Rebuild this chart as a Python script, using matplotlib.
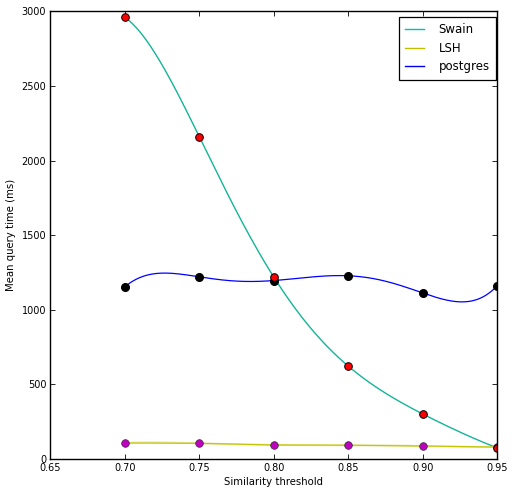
import numpy as np
import matplotlib
matplotlib.use("Agg")
import matplotlib.pyplot as plt
from matplotlib.lines import Line2D


# ============================================================
# Data
# ============================================================

THRESHOLDS = [0.70, 0.75, 0.80, 0.85, 0.90, 0.95]

SWAIN = [2960, 2160, 1220, 623, 302, 76]
LSH = [107, 105, 94, 92, 87, 80]
POSTGRES = [1154, 1221, 1196, 1228, 1113, 1160]

SERIES_LABELS = ["Swain", "LSH", "postgres"]


# ============================================================
# Helper: smooth curve through the points
# ============================================================

def smooth(x, y, x_new):
    coeffs = np.polyfit(x, y, len(x) - 1)
    return np.polyval(coeffs, x_new)


# ============================================================
# Plot
# ============================================================

plt.rcParams.update({
    "font.family": "DejaVu Sans",
    "font.size": 7,
    "xtick.direction": "in",
    "ytick.direction": "in",
    "xtick.top": True,
    "ytick.right": True,
    "xtick.major.size": 3.5,
    "ytick.major.size": 3.5,
    "xtick.major.pad": 3,
    "ytick.major.pad": 3,
})

fig = plt.figure(figsize=(5.14, 4.94), dpi=100)
ax = fig.add_axes([0.0982, 0.0709, 0.8687, 0.906])

x_smooth = np.linspace(THRESHOLDS[0], THRESHOLDS[-1], 300)

ax.plot(x_smooth, smooth(THRESHOLDS, SWAIN, x_smooth),
        color="#14b596", linewidth=1.0)
ax.plot(x_smooth, smooth(THRESHOLDS, LSH, x_smooth),
        color="#e6e69c", linewidth=1.4)
ax.plot(THRESHOLDS, LSH, color="#c4c400", linewidth=0.8)
ax.plot(x_smooth, smooth(THRESHOLDS, POSTGRES, x_smooth),
        color="blue", linewidth=0.9)

ax.plot(THRESHOLDS, POSTGRES, "o", color="black", markersize=5.5,
        markeredgecolor="black")
ax.plot(THRESHOLDS, LSH, "o", color="#c000c0", markersize=5.5,
        markeredgecolor="#303030", markeredgewidth=0.5)
ax.plot(THRESHOLDS, SWAIN, "o", color="red", markersize=5.5,
        markeredgecolor="black", markeredgewidth=0.7)

ax.set_xlim(0.65, 0.95)
ax.set_ylim(0, 3000)
xticks = np.round(np.arange(0.65, 0.951, 0.05), 2)
ax.set_xticks(xticks)
ax.set_xticklabels([f"{t:.2f}" for t in xticks])
ax.set_yticks(np.arange(0, 3001, 500))

ax.set_xlabel("Similarity threshold", fontsize=7.3, labelpad=3)
ax.set_ylabel("Mean query time (ms)", fontsize=7.3, labelpad=4)
ax.tick_params(labelsize=7, width=0.6)
for spine in ax.spines.values():
    spine.set_linewidth(1.0)

handles = [
    Line2D([], [], color="#00bfbf", linewidth=1.0),
    Line2D([], [], color="#bfbf00", linewidth=1.0),
    Line2D([], [], color="blue", linewidth=1.0),
]
leg = ax.legend(handles, SERIES_LABELS, loc="upper right",
                bbox_to_anchor=(496 / 514, 1 - 17 / 494),
                bbox_transform=fig.transFigure, borderaxespad=0,
                fontsize=8.5, fancybox=False, framealpha=1,
                handlelength=1.6, handletextpad=1.2, labelspacing=0.45,
                borderpad=0.55)
leg.get_frame().set_edgecolor("black")
leg.get_frame().set_linewidth(0.9)

fig.savefig("out.png", dpi=100)
